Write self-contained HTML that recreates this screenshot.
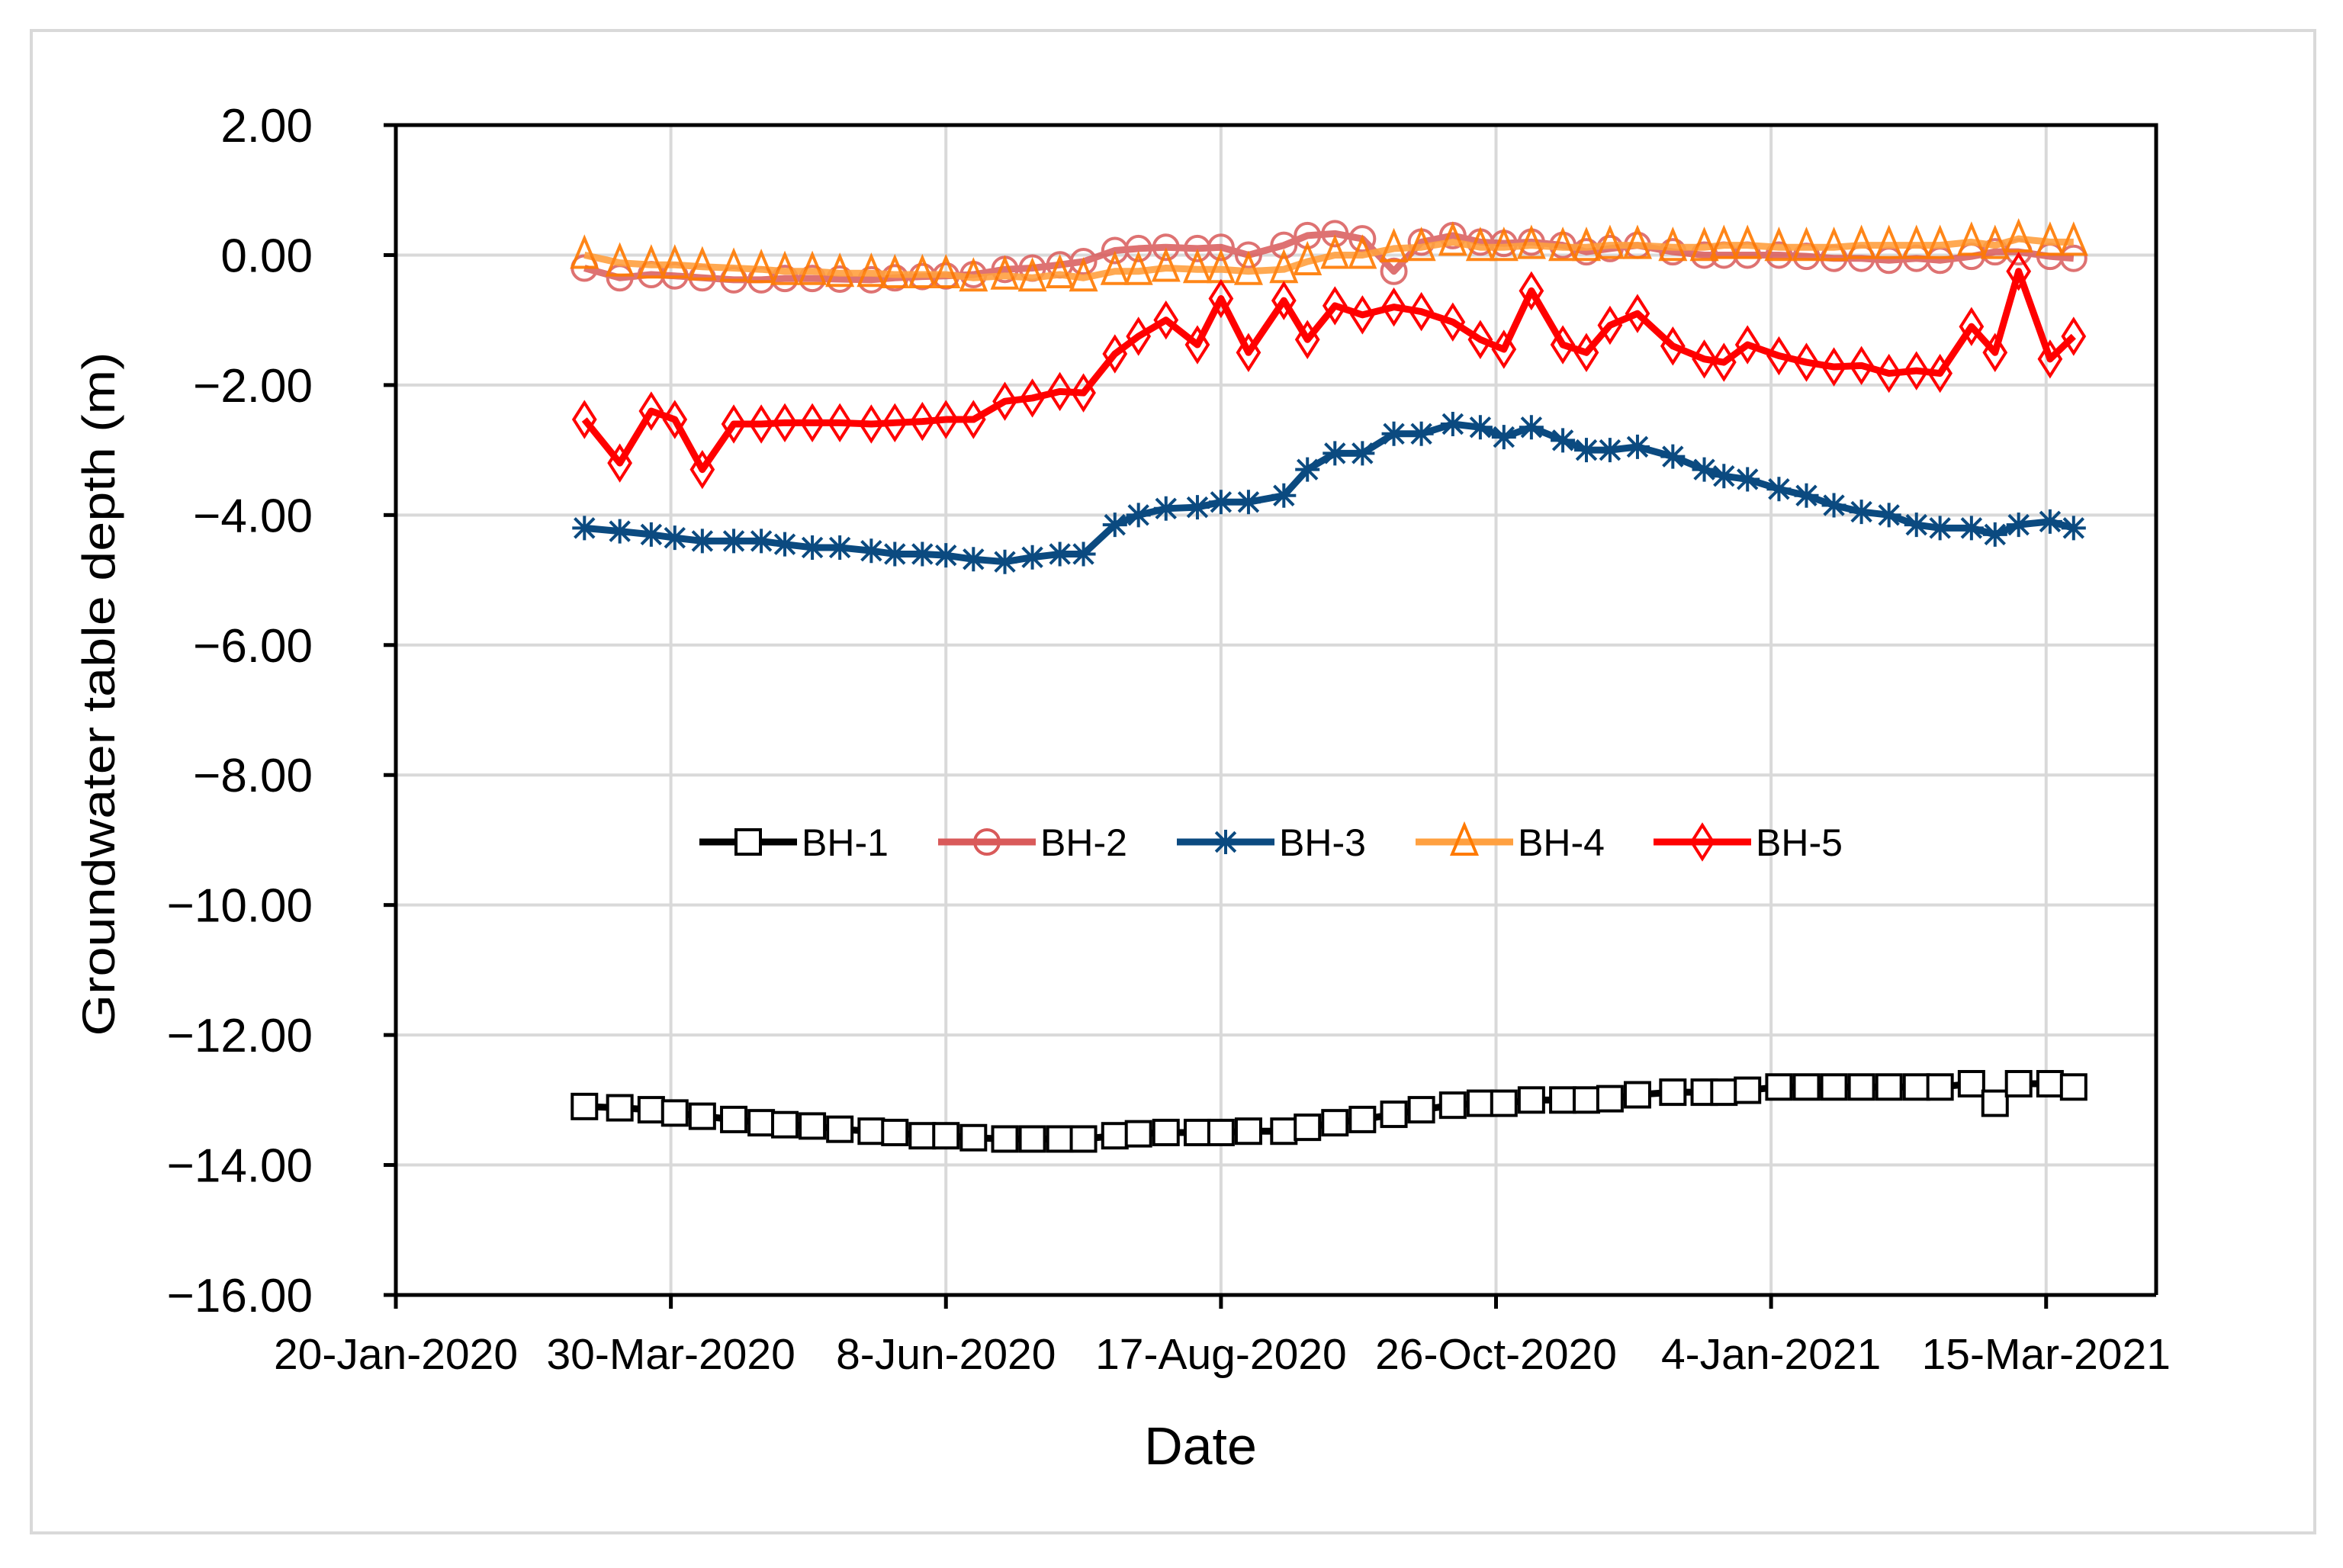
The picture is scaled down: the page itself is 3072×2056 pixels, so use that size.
<!DOCTYPE html>
<html><head><meta charset="utf-8"><style>
html,body{margin:0;padding:0;background:#fff;}
svg{display:block;font-family:"Liberation Sans",sans-serif;}
</style></head><body>
<svg id="chart" width="3072" height="2056" viewBox="0 0 3072 2056" xmlns="http://www.w3.org/2000/svg">
<rect x="41" y="40" width="2994" height="1970" fill="#fff" stroke="#d9d9d9" stroke-width="4"/>
<g id="grid"></g>
<g id="series"></g>
<g id="axes"></g>
<text transform="translate(150,910) rotate(-90)" text-anchor="middle" font-size="60" textLength="897" lengthAdjust="spacingAndGlyphs" fill="#000">Groundwater table depth (m)</text>
<text x="1574" y="1920" text-anchor="middle" font-size="70" fill="#000">Date</text>
<g id="legend"></g>
</svg>
<script>
const days=[48,57,65,71,78,86,93,99,106,113,121,127,134,140,147,155,162,169,175,183,189,196,204,210,217,226,232,239,246,254,261,269,276,282,289,297,303,309,316,325,333,338,344,352,359,366,373,380,387,393,401,407,413,421,427];
const bh1=[-13.1,-13.12,-13.15,-13.2,-13.25,-13.3,-13.35,-13.38,-13.4,-13.45,-13.48,-13.5,-13.55,-13.55,-13.58,-13.6,-13.6,-13.6,-13.6,-13.55,-13.52,-13.5,-13.5,-13.5,-13.48,-13.48,-13.42,-13.35,-13.3,-13.22,-13.15,-13.08,-13.05,-13.05,-13.0,-13.0,-13.0,-12.98,-12.92,-12.88,-12.88,-12.88,-12.85,-12.8,-12.8,-12.8,-12.8,-12.8,-12.8,-12.8,-12.75,-13.05,-12.75,-12.75,-12.8];
const bh2=[-0.2,-0.35,-0.3,-0.32,-0.35,-0.38,-0.38,-0.36,-0.36,-0.37,-0.38,-0.35,-0.33,-0.32,-0.3,-0.22,-0.2,-0.15,-0.1,0.07,0.1,0.12,0.1,0.12,0.0,0.15,0.3,0.33,0.25,-0.25,0.2,0.3,0.2,0.18,0.2,0.15,0.05,0.1,0.15,0.05,0.0,0.0,0.0,0.0,-0.02,-0.05,-0.05,-0.08,-0.05,-0.08,-0.02,0.05,0.05,-0.02,-0.05];
const bh3=[-4.2,-4.25,-4.3,-4.35,-4.4,-4.4,-4.4,-4.45,-4.5,-4.5,-4.55,-4.6,-4.6,-4.62,-4.68,-4.72,-4.65,-4.6,-4.6,-4.15,-4.0,-3.9,-3.88,-3.8,-3.8,-3.7,-3.3,-3.05,-3.05,-2.75,-2.75,-2.6,-2.65,-2.8,-2.65,-2.85,-3.0,-3.0,-2.95,-3.1,-3.3,-3.4,-3.45,-3.6,-3.7,-3.85,-3.95,-4.0,-4.15,-4.2,-4.2,-4.3,-4.15,-4.1,-4.2];
const bh4=[0.0,-0.12,-0.15,-0.15,-0.18,-0.2,-0.22,-0.25,-0.25,-0.28,-0.28,-0.3,-0.3,-0.3,-0.35,-0.32,-0.35,-0.3,-0.35,-0.25,-0.25,-0.2,-0.22,-0.22,-0.25,-0.22,-0.1,0.0,0.0,0.1,0.12,0.2,0.12,0.12,0.15,0.12,0.12,0.15,0.15,0.12,0.12,0.15,0.15,0.12,0.12,0.12,0.15,0.15,0.15,0.15,0.2,0.15,0.25,0.2,0.2];
const bh5=[-2.53,-3.2,-2.4,-2.53,-3.3,-2.6,-2.6,-2.58,-2.58,-2.58,-2.6,-2.58,-2.56,-2.53,-2.53,-2.25,-2.2,-2.1,-2.12,-1.52,-1.25,-1.0,-1.38,-0.67,-1.5,-0.7,-1.3,-0.78,-0.92,-0.8,-0.87,-1.03,-1.3,-1.45,-0.55,-1.38,-1.5,-1.08,-0.9,-1.4,-1.6,-1.65,-1.38,-1.55,-1.65,-1.72,-1.7,-1.82,-1.78,-1.82,-1.1,-1.5,-0.25,-1.6,-1.25];
const yTicks=[2,0,-2,-4,-6,-8,-10,-12,-14,-16];
const yTickLabels=["2.00","0.00","\u22122.00","\u22124.00","\u22126.00","\u22128.00","\u221210.00","\u221212.00","\u221214.00","\u221216.00"];
const xTicks=[0,70,140,210,280,350,420];
const xTickLabels=["20-Jan-2020","30-Mar-2020","8-Jun-2020","17-Aug-2020","26-Oct-2020","4-Jan-2021","15-Mar-2021"];
const seriesNames=["BH-1","BH-2","BH-3","BH-4","BH-5"];

const L=519,R=2827,T=164,B=1698,XMAX=448,YMIN=-16,YMAX=2;
const sx=d=>L+(d/XMAX)*(R-L);
const sy=v=>T+(YMAX-v)/(YMAX-YMIN)*(B-T);
const NS="http://www.w3.org/2000/svg";
function mk(tag,attrs,parent){const e=document.createElementNS(NS,tag);for(const k in attrs)e.setAttribute(k,attrs[k]);parent.appendChild(e);return e;}
const grid=document.getElementById('grid'),axes=document.getElementById('axes'),sg=document.getElementById('series'),lg=document.getElementById('legend');

yTicks.forEach((v,i)=>{
  if(v!==YMIN&&v!==YMAX){const g=mk('line',{x1:L,x2:R,y1:sy(v),y2:sy(v),stroke:'#d9d9d9','stroke-width':4},grid);
  
  }
  const t=mk('line',{x1:L-16,x2:L,y1:sy(v),y2:sy(v),stroke:'#000','stroke-width':5},axes);
  
  
  const tx=mk('text',{x:410,y:sy(v)+22,'text-anchor':'end','font-size':62,fill:'#000'},axes);
  tx.textContent=yTickLabels[i];
  
  
});
xTicks.forEach((d,i)=>{
  if(d>0){const g=mk('line',{x1:sx(d),x2:sx(d),y1:T,y2:B,stroke:'#d9d9d9','stroke-width':4},grid);
  
  }
  const t=mk('line',{x1:sx(d),x2:sx(d),y1:B,y2:B+18,stroke:'#000','stroke-width':5},axes);
  
  
  const tx=mk('text',{x:sx(d),y:1795,'text-anchor':'middle','font-size':57,fill:'#000'},axes);
  tx.textContent=xTickLabels[i];
  
  
});
const frame=mk('path',{d:`M${L},${T} H${R} V${B} M${L},${T} V${B} H${R}`,fill:'none',stroke:'#000','stroke-width':5},axes);



function marker(kind,x,y,color,parent){
  const s=16;let e;
  if(kind==='square')e=mk('rect',{x:x-s,y:y-s,width:2*s,height:2*s,fill:'#fff',stroke:color,'stroke-width':4},parent);
  else if(kind==='circle')e=mk('circle',{cx:x,cy:y,r:s,fill:'none',stroke:color,'stroke-width':4},parent);
  else if(kind==='triangle')e=mk('path',{d:`M${x},${y-s-6} L${x+s},${y+s} L${x-s},${y+s} Z`,fill:'none',stroke:color,'stroke-width':4},parent);
  else if(kind==='diamond')e=mk('path',{d:`M${x},${y-s-6} L${x+s-2},${y} L${x},${y+s+6} L${x-s+2},${y} Z`,fill:'none',stroke:color,'stroke-width':4},parent);
  else {e=mk('path',{d:`M${x-s},${y} H${x+s} M${x},${y-s} V${y+s} M${x-s*0.8},${y-s*0.8} L${x+s*0.8},${y+s*0.8} M${x+s*0.8},${y-s*0.8} L${x-s*0.8},${y+s*0.8}`,stroke:color,'stroke-width':4},parent);}
  return e;
}
const defs=[
 {data:bh1,line:'#000',mk:'#000',kind:'square',op:1},
 {data:bh2,line:'#d95a5a',mk:'#d95a5a',kind:'circle',op:0.85},
 {data:bh3,line:'#0b4a80',mk:'#0b4a80',kind:'star',op:1},
 {data:bh4,line:'#ffa040',mk:'#ff7a00',kind:'triangle',op:0.9},
 {data:bh5,line:'#ff0000',mk:'#ff0000',kind:'diamond',op:1}
];
defs.forEach((s,si)=>{
  const g=mk('g',{opacity:s.op},sg);
  
  
  const p=mk('polyline',{points:s.data.map((v,i)=>sx(days[i])+','+sy(v)).join(' '),fill:'none',stroke:s.line,'stroke-width':9,'stroke-linejoin':'round'},g);
  
  
  s.data.forEach((v,i)=>{const m=marker(s.kind,sx(days[i]),sy(v),s.mk,g);
    
    });
});
const lx=[917,1230,1543,1856,2168];
defs.forEach((s,i)=>{
  const g=mk('g',{},lg);
  
  
  mk('line',{x1:lx[i],x2:lx[i]+128,y1:1104,y2:1104,stroke:s.line,'stroke-width':9},g);
  marker(s.kind,lx[i]+64,1104,s.mk,g);
  const t=mk('text',{x:lx[i]+134,y:1122,'font-size':50,fill:'#000'},g);
  t.textContent=seriesNames[i];
});
</script>
</body></html>
